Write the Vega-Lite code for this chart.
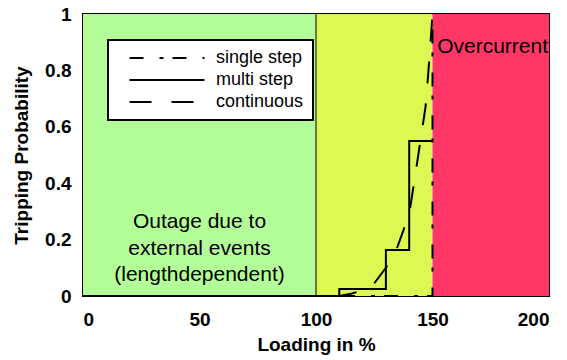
{
  "$schema": "https://vega.github.io/schema/vega-lite/v6.json",
  "width": 466,
  "height": 282,
  "autosize": "none",
  "padding": {"left": 83, "top": 14, "right": 18, "bottom": 64},
  "config": {
    "font": "Liberation Sans",
    "view": {"stroke": "black", "strokeWidth": 2},
    "legend": {"strokeWidth": 2},
    "axis": {
      "grid": false,
      "domain": false,
      "tickColor": "black",
      "tickSize": -5,
      "tickWidth": 1,
      "labelColor": "black",
      "titleColor": "black",
      "labelFontSize": 19,
      "labelFontWeight": "bold",
      "titleFontSize": 19,
      "titleFontWeight": "bold",
      "zindex": 1
    }
  },
  "datasets": {
    "zones": [
      {"from": 0, "to": 100, "zone": "length dependent"},
      {"from": 100, "to": 150, "zone": "transition"},
      {"from": 150, "to": 200, "zone": "overcurrent"}
    ],
    "curves": [
      {"series": "single step", "i": 1, "loading": 0, "p": 0},
      {"series": "single step", "i": 2, "loading": 150, "p": 0},
      {"series": "single step", "i": 3, "loading": 150, "p": 1},
      {"series": "multi step", "i": 1, "loading": 0, "p": 0},
      {"series": "multi step", "i": 2, "loading": 110, "p": 0},
      {"series": "multi step", "i": 3, "loading": 110, "p": 0.025},
      {"series": "multi step", "i": 4, "loading": 130, "p": 0.025},
      {"series": "multi step", "i": 5, "loading": 130, "p": 0.163},
      {"series": "multi step", "i": 6, "loading": 140, "p": 0.163},
      {"series": "multi step", "i": 7, "loading": 140, "p": 0.55},
      {"series": "multi step", "i": 8, "loading": 150, "p": 0.55},
      {"series": "continuous", "i": 1, "loading": 0, "p": 0},
      {"series": "continuous", "i": 2, "loading": 110, "p": 0},
      {"series": "continuous", "i": 3, "loading": 115, "p": 0.008},
      {"series": "continuous", "i": 4, "loading": 120, "p": 0.02},
      {"series": "continuous", "i": 5, "loading": 125, "p": 0.045},
      {"series": "continuous", "i": 6, "loading": 130, "p": 0.1},
      {"series": "continuous", "i": 7, "loading": 135, "p": 0.175},
      {"series": "continuous", "i": 8, "loading": 140, "p": 0.29},
      {"series": "continuous", "i": 9, "loading": 143, "p": 0.45},
      {"series": "continuous", "i": 10, "loading": 145, "p": 0.56},
      {"series": "continuous", "i": 11, "loading": 147, "p": 0.67},
      {"series": "continuous", "i": 12, "loading": 148, "p": 0.77},
      {"series": "continuous", "i": 13, "loading": 149, "p": 0.88},
      {"series": "continuous", "i": 14, "loading": 150, "p": 1}
    ]
  },
  "layer": [
    {
      "data": {"name": "zones"},
      "mark": {"type": "rect"},
      "encoding": {
        "x": {
          "field": "from",
          "type": "quantitative",
          "scale": {"domain": [0, 200], "nice": false},
          "axis": {"title": "Loading in %", "values": [0, 50, 100, 150, 200], "labelPadding": 19, "titlePadding": 6}
        },
        "x2": {"field": "to"},
        "y": {
          "datum": 0,
          "type": "quantitative",
          "scale": {"domain": [0, 1], "nice": false},
          "axis": {"title": "Tripping Probability", "values": [0, 0.2, 0.4, 0.6, 0.8, 1], "format": ".1~f", "labelPadding": 17, "titlePadding": 13}
        },
        "y2": {"datum": 1},
        "color": {
          "field": "zone",
          "type": "nominal",
          "scale": {
            "domain": ["length dependent", "transition", "overcurrent"],
            "range": ["#b3fe98", "#dff752", "#ff3766"]
          },
          "legend": null
        }
      }
    },
    {
      "data": {"values": [{"loading": 100}]},
      "mark": {"type": "rule", "color": "black", "strokeWidth": 1},
      "encoding": {"x": {"field": "loading", "type": "quantitative"}}
    },
    {
      "data": {"name": "curves"},
      "mark": {"type": "line", "color": "black", "strokeWidth": 2, "clip": true},
      "encoding": {
        "x": {"field": "loading", "type": "quantitative"},
        "y": {"field": "p", "type": "quantitative"},
        "order": {"field": "i"},
        "strokeDash": {
          "field": "series",
          "type": "nominal",
          "scale": {
            "domain": ["single step", "multi step", "continuous"],
            "range": [[14, 16, 4, 9], [1, 0], [22, 20]]
          },
          "legend": {
            "title": null,
            "orient": "none",
            "legendX": 25,
            "legendY": 26,
            "symbolType": "M-7.5,0H7.5",
            "symbolSize": 100,
            "symbolOffset": 41,
            "symbolStrokeWidth": 2,
            "symbolStrokeColor": "black",
            "labelFontSize": 18,
            "labelColor": "black",
            "labelOffset": 40,
            "rowPadding": 4,
            "padding": 9,
            "fillColor": "white",
            "strokeColor": "black",
            "cornerRadius": 0
          }
        }
      }
    },
    {
      "data": {"values": [{"loading": 50, "p": 0.262, "text": ["Outage due to", "external events", "(lengthdependent)"]}]},
      "mark": {"type": "text", "fontSize": 21, "color": "black", "baseline": "middle", "align": "center", "lineHeight": 26.5},
      "encoding": {
        "x": {"field": "loading", "type": "quantitative"},
        "y": {"field": "p", "type": "quantitative"},
        "text": {"field": "text"}
      }
    },
    {
      "data": {"values": [{"loading": 152, "p": 0.883, "text": "Overcurrent"}]},
      "mark": {"type": "text", "fontSize": 21, "color": "black", "baseline": "middle", "align": "left"},
      "encoding": {
        "x": {"field": "loading", "type": "quantitative"},
        "y": {"field": "p", "type": "quantitative"},
        "text": {"field": "text"}
      }
    }
  ]
}
